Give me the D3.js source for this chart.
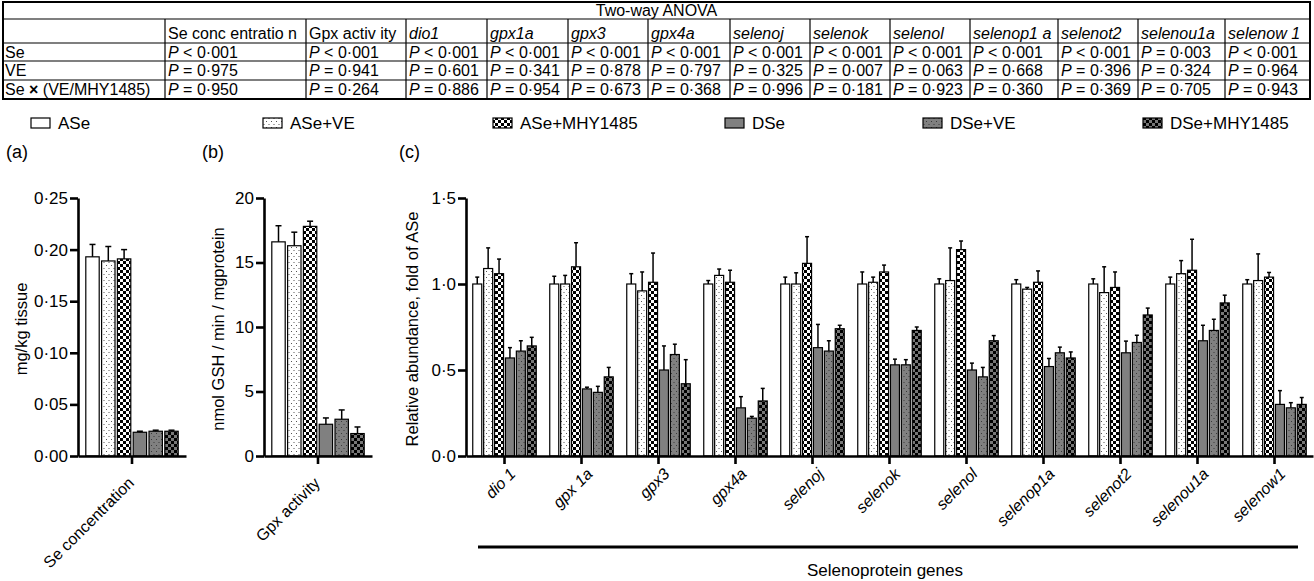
<!DOCTYPE html>
<html>
<head>
<meta charset="utf-8">
<script src="https://cdn.jsdelivr.net/npm/d3@7"></script>
<style>
  body { margin: 0; background: #fff; }
  svg { font-family: "Liberation Sans", Arial, sans-serif; }
</style>
</head>
<body>
<svg id="chart" width="1314" height="581"></svg>
<script>
// ---------------------------------------------------------------
// Data
// ---------------------------------------------------------------
var groups = ['ASe', 'ASe+VE', 'ASe+MHY1485', 'DSe', 'DSe+VE', 'DSe+MHY1485'];

// (a) Se concentration, mg/kg tissue
var seConc    = [0.193, 0.189, 0.191, 0.023, 0.024, 0.024];
var seConcErr = [0.012, 0.014, 0.009, 0.001, 0.001, 0.001];

// (b) Gpx activity, nmol GSH / min / mgprotein
var gpxAct    = [16.6, 16.3, 17.8, 2.46, 2.85, 1.74];
var gpxActErr = [1.25, 1.05, 0.4, 0.49, 0.72, 0.51];

// (c) relative abundance, fold of ASe
var genes = ['dio 1', 'gpx 1a', 'gpx3', 'gpx4a', 'selenoj', 'selenok', 'selenol',
             'selenop1a', 'selenot2', 'selenou1a', 'selenow1'];
var geneMeans = [
  [1.00, 1.09, 1.06, 0.57, 0.61, 0.64],
  [1.00, 1.00, 1.10, 0.39, 0.37, 0.46],
  [1.00, 0.96, 1.01, 0.50, 0.59, 0.42],
  [1.00, 1.05, 1.01, 0.28, 0.22, 0.32],
  [1.00, 1.00, 1.12, 0.63, 0.61, 0.74],
  [1.00, 1.01, 1.07, 0.53, 0.53, 0.73],
  [1.00, 1.02, 1.20, 0.50, 0.46, 0.67],
  [1.00, 0.97, 1.01, 0.52, 0.60, 0.57],
  [1.00, 0.95, 0.98, 0.60, 0.66, 0.82],
  [1.00, 1.06, 1.08, 0.67, 0.73, 0.89],
  [1.00, 1.02, 1.04, 0.30, 0.28, 0.30]
];
var geneErr = [
  [0.04, 0.12, 0.085, 0.06, 0.06, 0.05],
  [0.045, 0.05, 0.14, 0.01, 0.035, 0.055],
  [0.06, 0.11, 0.17, 0.14, 0.06, 0.14],
  [0.02, 0.037, 0.07, 0.065, 0.01, 0.073],
  [0.04, 0.065, 0.155, 0.135, 0.06, 0.02],
  [0.07, 0.03, 0.04, 0.033, 0.03, 0.02],
  [0.03, 0.19, 0.05, 0.04, 0.055, 0.03],
  [0.025, 0.01, 0.066, 0.047, 0.033, 0.035],
  [0.03, 0.15, 0.09, 0.068, 0.042, 0.04],
  [0.04, 0.076, 0.18, 0.09, 0.065, 0.045],
  [0.025, 0.155, 0.027, 0.08, 0.03, 0.04]
];

// Two-way ANOVA table
var anovaTitle = 'Two-way ANOVA';
var anovaCols = ['Se conc entratio n', 'Gpx activ ity', 'dio1', 'gpx1a', 'gpx3', 'gpx4a', 'selenoj',
                 'selenok', 'selenol', 'selenop1 a', 'selenot2', 'selenou1a', 'selenow 1'];
var anovaColItalic = [false, false, true, true, true, true, true, true, true, true, true, true, true];
var anovaRows = ['Se', 'VE', 'Se \u00d7 (VE/MHY1485)'];
var pSe    = ['< 0·001', '< 0·001', '< 0·001', '< 0·001', '< 0·001', '< 0·001', '< 0·001',
              '< 0·001', '< 0·001', '< 0·001', '< 0·001', '= 0·003', '< 0·001'];
var pVE    = ['= 0·975', '= 0·941', '= 0·601', '= 0·341', '= 0·878', '= 0·797', '= 0·325',
              '= 0·007', '= 0·063', '= 0·668', '= 0·396', '= 0·324', '= 0·964'];
var pInter = ['= 0·950', '= 0·264', '= 0·886', '= 0·954', '= 0·673', '= 0·368', '= 0·996',
              '= 0·181', '= 0·923', '= 0·360', '= 0·369', '= 0·705', '= 0·943'];

// ---------------------------------------------------------------
// Setup
// ---------------------------------------------------------------
var svg = d3.select('#chart');
var defs = svg.append('defs');
var FONT = '"Liberation Sans", Arial, sans-serif';

// fill patterns for the six groups
function dotPattern(id, bg, dot) {
  var p = defs.append('pattern').attr('id', id).attr('patternUnits', 'userSpaceOnUse')
    .attr('width', 5).attr('height', 6);
  p.append('rect').attr('width', 5).attr('height', 6).attr('fill', bg);
  p.append('rect').attr('x', 1).attr('y', 1).attr('width', 1).attr('height', 1).attr('fill', dot);
  p.append('rect').attr('x', 3.5).attr('y', 4).attr('width', 1).attr('height', 1).attr('fill', dot);
}
function checkPattern(id, bg, fg) {
  var p = defs.append('pattern').attr('id', id).attr('patternUnits', 'userSpaceOnUse')
    .attr('width', 6).attr('height', 6);
  p.append('rect').attr('width', 6).attr('height', 6).attr('fill', bg);
  p.append('rect').attr('width', 3).attr('height', 3).attr('fill', fg);
  p.append('rect').attr('x', 3).attr('y', 3).attr('width', 3).attr('height', 3).attr('fill', fg);
}
dotPattern('dotW', '#fff', '#555');
checkPattern('chkW', '#fff', '#000');
dotPattern('dotG', '#808080', '#3a3a3a');
checkPattern('chkG', '#777', '#000');

var fills = ['#fff', 'url(#dotW)', 'url(#chkW)', '#808080', 'url(#dotG)', 'url(#chkG)'];

// ---------------------------------------------------------------
// ANOVA table
// ---------------------------------------------------------------
var colEdges = [3, 165, 306, 406, 487, 568, 648, 730, 810, 890, 970, 1058, 1138, 1225, 1310];
var rowEdges = [2, 19, 43, 61, 80, 99];
var table = svg.append('g').attr('font-size', 16);

// grid lines
for (var r = 1; r < rowEdges.length - 1; r++) {
  table.append('line').attr('x1', colEdges[0]).attr('x2', colEdges[colEdges.length - 1])
    .attr('y1', rowEdges[r]).attr('y2', rowEdges[r]).attr('stroke', '#000').attr('stroke-width', 1.2);
}
for (var c = 1; c < colEdges.length - 1; c++) {
  table.append('line').attr('x1', colEdges[c]).attr('x2', colEdges[c])
    .attr('y1', rowEdges[1]).attr('y2', rowEdges[rowEdges.length - 1])
    .attr('stroke', '#000').attr('stroke-width', 1.2);
}
table.append('rect').attr('x', colEdges[0]).attr('y', rowEdges[0])
  .attr('width', colEdges[colEdges.length - 1] - colEdges[0])
  .attr('height', rowEdges[rowEdges.length - 1] - rowEdges[0])
  .attr('fill', 'none').attr('stroke', '#000').attr('stroke-width', 2);

table.append('text').attr('x', (colEdges[0] + colEdges[colEdges.length - 1]) / 2).attr('y', 16)
  .attr('text-anchor', 'middle').text(anovaTitle);

anovaCols.forEach(function(name, i) {
  table.append('text').attr('x', colEdges[i + 1] + 3).attr('y', 39)
    .style('font-style', anovaColItalic[i] ? 'italic' : 'normal').text(name);
});

var pRows = [pSe, pVE, pInter];
anovaRows.forEach(function(name, r) {
  var base = rowEdges[r + 2] + 15;
  var t = table.append('text').attr('x', colEdges[0] + 2).attr('y', base);
  if (r === 2) {
    t.append('tspan').text('Se ');
    t.append('tspan').style('font-weight', 'bold').text('\u00d7');
    t.append('tspan').text(' (VE/MHY1485)');
  } else {
    t.text(name);
  }
  pRows[r].forEach(function(p, i) {
    var cell = table.append('text').attr('x', colEdges[i + 1] + 3).attr('y', base);
    cell.append('tspan').style('font-style', 'italic').text('P');
    cell.append('tspan').text(' ' + p);
  });
});

// ---------------------------------------------------------------
// Legend
// ---------------------------------------------------------------
var legendX = [31, 263, 493, 725, 923, 1143];
var legend = svg.append('g').attr('font-size', 17);
groups.forEach(function(g, i) {
  legend.append('rect').attr('x', legendX[i]).attr('y', 118).attr('width', 19).attr('height', 10)
    .attr('fill', fills[i]).attr('stroke', '#000').attr('stroke-width', 1.2);
  legend.append('text').attr('x', legendX[i] + 27).attr('y', 129).text(g);
});

// ---------------------------------------------------------------
// Bar panels
// ---------------------------------------------------------------
var yTop = 198, yBottom = 456;

function drawPanel(o) {
  var g = svg.append('g');

  var y = d3.scaleLinear().domain(o.domain).range([yBottom, yTop]);
  var x = d3.scaleBand().domain(o.cats).range([o.x0, o.x1]);
  var inner = d3.scaleBand().domain(d3.range(groups.length))
    .range([-3 * o.pitch, 3 * o.pitch]);

  // bars
  o.cats.forEach(function(cat, i) {
    var cx = x(cat) + x.bandwidth() / 2;
    var grp = g.append('g');
    grp.selectAll('rect')
      .data(o.means[i])
      .enter()
      .append('rect')
      .attr('x', function(d, j) { return cx + inner(j) + o.gap / 2; })
      .attr('y', function(d) { return y(d); })
      .attr('width', inner.bandwidth() - o.gap)
      .attr('height', function(d) { return y(0) - y(d); })
      .attr('fill', function(d, j) { return fills[j]; })
      .attr('stroke', '#000')
      .attr('stroke-width', 1.2);

    // error bars (upper only)
    o.means[i].forEach(function(m, j) {
      var ex = cx + inner(j) + inner.bandwidth() / 2;
      var top = y(m + o.errs[i][j]);
      grp.append('line').attr('x1', ex).attr('x2', ex).attr('y1', y(m)).attr('y2', top)
        .attr('stroke', '#000').attr('stroke-width', 1.5);
      grp.append('line').attr('x1', ex - o.cap).attr('x2', ex + o.cap).attr('y1', top).attr('y2', top)
        .attr('stroke', '#000').attr('stroke-width', 1.5);
    });
  });

  // y axis
  var yAxis = d3.axisLeft(y).tickValues(o.ticks).tickSize(8).tickSizeOuter(0).tickPadding(2)
    .tickFormat(function(d) { return o.fmt(d).replace('.', '\u00b7'); });
  var ya = g.append('g').attr('transform', 'translate(' + o.x0 + ',0)').call(yAxis);
  ya.select('.domain').attr('stroke-width', 2.6);
  ya.selectAll('.tick line').attr('stroke-width', 2.6);
  ya.selectAll('.tick text').attr('font-size', 17).attr('fill', '#000').attr('font-family', FONT);

  // x axis
  var xAxis = d3.axisBottom(x).tickSize(8).tickSizeOuter(0);
  var xa = g.append('g').attr('transform', 'translate(0,' + yBottom + ')').call(xAxis);
  xa.select('.domain').attr('stroke-width', 2.6);
  xa.selectAll('.tick line').attr('stroke-width', 2.6);
  xa.selectAll('.tick text')
    .attr('x', 0).attr('y', 0).attr('dy', 0)
    .attr('transform', 'translate(' + o.labelDx + ',' + o.labelDy + ') rotate(-45)')
    .style('text-anchor', 'end')
    .style('font-style', o.italic ? 'italic' : 'normal')
    .attr('font-size', 16).attr('fill', '#000').attr('font-family', FONT);

  // y title
  g.append('text')
    .attr('transform', 'translate(' + o.ylabelX + ',' + ((yTop + yBottom) / 2 + 2) + ') rotate(-90)')
    .attr('text-anchor', 'middle').attr('font-size', 16.5).text(o.ylabel);

  // panel letter
  g.append('text').attr('x', o.letterX).attr('y', 158).attr('font-size', 18).text(o.letter);
}

drawPanel({
  x0: 78, x1: 186, cats: ['Se concentration'], means: [seConc], errs: [seConcErr],
  domain: [0, 0.25], ticks: [0, 0.05, 0.1, 0.15, 0.2, 0.25], fmt: d3.format('.2f'),
  pitch: 15.8, gap: 2.4, cap: 3, italic: false, labelDx: 3, labelDy: 28,
  ylabel: 'mg/kg tissue', ylabelX: 27, letter: '(a)', letterX: 6
});

drawPanel({
  x0: 264, x1: 372, cats: ['Gpx activity'], means: [gpxAct], errs: [gpxActErr],
  domain: [0, 20], ticks: [0, 5, 10, 15, 20], fmt: d3.format('d'),
  pitch: 15.8, gap: 2.4, cap: 3, italic: false, labelDx: 3, labelDy: 28,
  ylabel: 'nmol GSH / min / mgprotein', ylabelX: 224, letter: '(b)', letterX: 202
});

drawPanel({
  x0: 466, x1: 1313, cats: genes, means: geneMeans, errs: geneErr,
  domain: [0, 1.5], ticks: [0, 0.5, 1, 1.5], fmt: d3.format('.1f'),
  pitch: 10.9, gap: 1.9, cap: 2, italic: true, labelDx: 12, labelDy: 19,
  ylabel: 'Relative abundance, fold of ASe', ylabelX: 418, letter: '(c)', letterX: 399
});

// group bracket under gene labels
svg.append('line').attr('x1', 478).attr('x2', 1298).attr('y1', 547).attr('y2', 547)
  .attr('stroke', '#000').attr('stroke-width', 3);
svg.append('text').attr('x', 885).attr('y', 576).attr('text-anchor', 'middle')
  .attr('font-size', 17).text('Selenoprotein genes');
</script>
</body>
</html>
